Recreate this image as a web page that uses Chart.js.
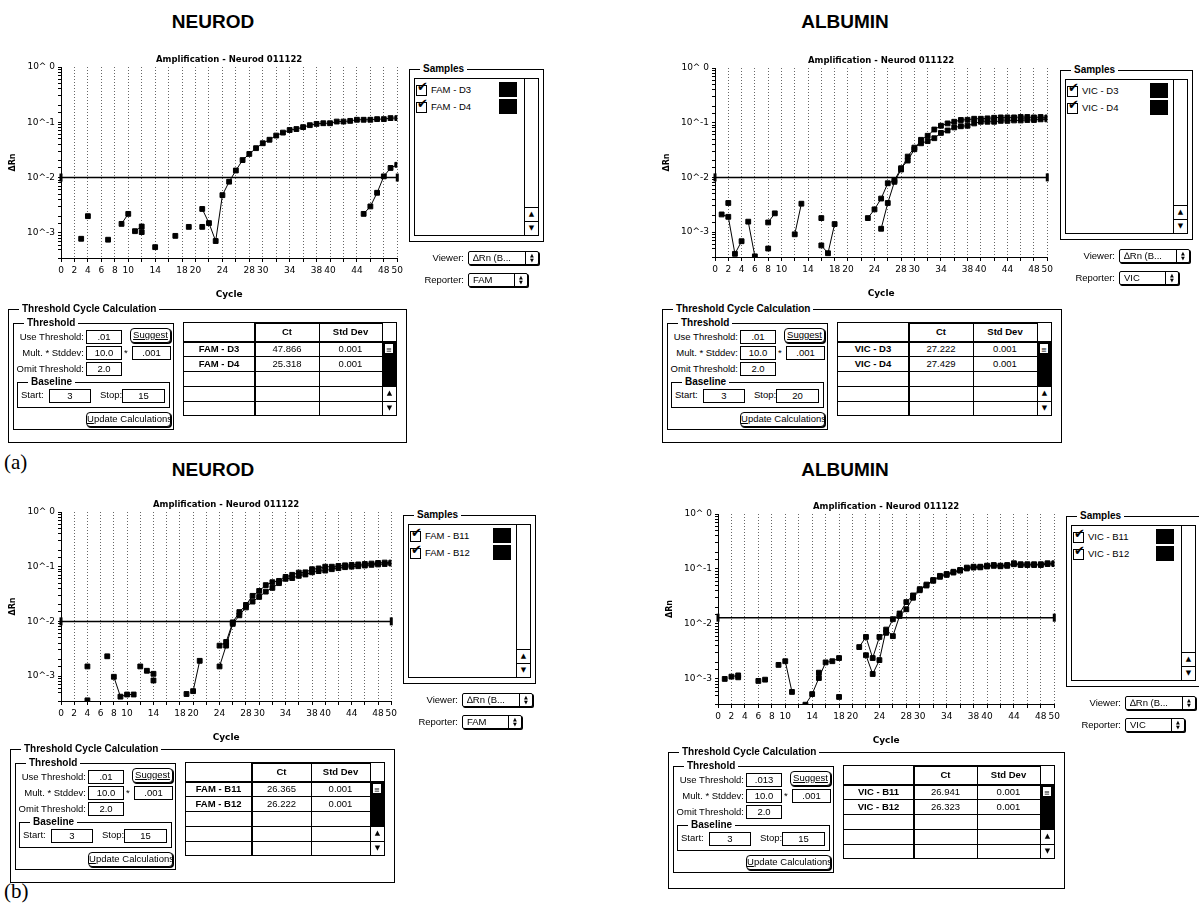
<!DOCTYPE html>
<html>
<head>
<meta charset="utf-8">
<script src="https://cdn.jsdelivr.net/npm/chart.js@4.4.0/dist/chart.umd.min.js"></script>
<style>
body { margin: 0; background: #fff; }
#stage { position: relative; width: 1199px; height: 910px; overflow: hidden; background: #fff;
         font-family: "Liberation Sans", Arial, sans-serif; font-size: 9.5px; color: #000; }
.a { position: absolute; box-sizing: border-box; }
.box { border: 1px solid #000; }
.gt { background: #fff; padding: 0 3px; font-weight: bold; font-size: 10px; line-height: 12px; white-space: nowrap; }
.lbl { white-space: nowrap; line-height: 12px; }
.fld { border: 1px solid #000; background: #fff; text-align: center; line-height: 12px; white-space: nowrap; }
.btn { border: 1px solid #000; border-radius: 4px; box-shadow: 1px 1px 0 #000; background: #fff;
       text-align: center; line-height: 12px; white-space: nowrap; }
.pop { border: 1px solid #000; border-radius: 2px; box-shadow: 1px 1px 0 #000; background: #fff; }
.blk { background: #000; }
.arrow { text-align: center; font-size: 7px; line-height: 13px; font-family: "DejaVu Sans", sans-serif; }
.updn { text-align: center; font-size: 5px; line-height: 5px; padding-top: 1px; font-family: "DejaVu Sans", sans-serif; }
.chk { font-family: "DejaVu Sans", sans-serif; font-size: 13px; font-weight: bold; line-height: 14px; }
.head { font-weight: bold; font-size: 19px; line-height: 22px; text-align: center; }
.paren { font-family: "Liberation Serif", "Times New Roman", serif; font-size: 21px; line-height: 22px; }
.cell { text-align: center; line-height: 14px; white-space: nowrap; }
.bold { font-weight: bold; }
</style>
</head>
<body>
<div id="stage"></div>
<script>
// ---- data ----
const cycles = [1,2,3,4,5,6,7,8,9,10,11,12,13,14,15,16,17,18,19,20,21,22,23,24,25,
                26,27,28,29,30,31,32,33,34,35,36,37,38,39,40,41,42,43,44,45,46,47,48,49,50];
const xLabelCycles = [0,2,4,6,8,10,14,18,20,24,28,30,34,38,40,44,48,50];

// (a) Neurod, FAM
const neurodD3 = [null,null,null,0.002,null,null,null,null,null,null,
  0.00107,0.0013,null,null,null,null,null,null,0.00128,null,
  0.00128,null,null,null,null,null,null,null,null,null,
  null,null,null,null,null,null,null,null,null,null,
  null,null,null,null,0.0022,0.003,0.0053,0.0105,0.0149,0.017];
const neurodD4 = [null,null,0.00078,null,null,null,0.00075,null,0.00145,0.0022,
  null,0.00103,null,0.00055,null,null,0.00088,null,null,null,
  0.0027,0.0015,0.00071,0.0048,0.0084,0.0134,0.0207,0.0267,0.034,0.0417,
  0.0483,0.0575,0.065,0.0724,0.0754,0.0817,0.0886,0.0935,0.096,0.096,
  0.103,0.103,0.106,0.111,0.111,0.111,0.114,0.114,0.119,0.119];
// (a) Albumin, VIC
const albuminD3 = [0.0021,0.0019,0.0004,0.00068,null,null,null,0.0015,0.0022,null,
  null,0.00091,0.0033,null,null,0.0018,null,null,null,null,
  null,null,0.0018,0.0026,0.0041,0.0078,0.0088,0.0147,0.0203,0.0327,
  0.0486,0.0576,0.075,0.088,0.097,0.104,0.112,0.113,0.118,0.118,
  0.12,0.123,0.125,0.125,0.125,0.127,0.127,0.125,0.127,0.125];
const albuminD4 = [null,0.0034,null,null,0.00155,0.00036,null,0.0005,null,null,
  null,null,null,null,null,0.00057,0.00041,0.0014,null,null,
  null,null,null,null,0.00115,0.0034,0.0083,0.0139,0.024,0.035,
  0.042,0.046,0.052,0.065,0.072,0.082,0.086,0.088,0.097,0.104,
  0.104,0.104,0.108,0.108,0.11,0.11,0.112,0.112,0.115,0.115];
// (b) Neurod, FAM
const neurodB11 = [null,null,null,0.0015,null,null,0.0023,null,null,null,
  null,0.0015,null,0.00083,null,null,null,null,0.00047,null,
  null,null,null,0.0015,0.0036,0.009,0.0129,0.018,0.023,0.028,
  0.035,0.041,0.05,0.06,0.062,0.068,0.072,0.079,0.083,0.085,
  0.09,0.094,0.098,0.1,0.102,0.105,0.108,0.11,0.112,0.114];
const neurodB12 = [null,null,null,0.00036,null,null,null,0.00097,0.00042,0.00046,
  0.00046,null,0.00125,0.0011,null,null,null,null,null,0.00053,
  0.0019,null,null,0.0036,0.0042,0.0096,0.0148,0.02,0.0293,0.036,
  0.046,0.052,0.055,0.065,0.071,0.078,0.079,0.09,0.093,0.1,
  0.1,0.103,0.106,0.108,0.11,0.112,0.114,0.117,0.119,0.119];
// (b) Albumin, VIC
const albuminB11 = [0.001,null,0.00107,null,null,0.00092,null,null,0.0018,null,
  null,null,0.00034,0.00053,0.00104,0.002,0.0021,0.0024,null,null,
  null,0.0027,0.00123,0.0022,0.0079,0.006,0.014,0.0185,0.03,0.041,
  0.05,0.061,0.072,0.078,0.086,0.093,0.102,0.106,0.107,0.111,
  0.114,0.112,0.114,0.122,0.118,0.118,0.118,0.118,0.123,0.123];
const albuminB12 = [null,0.0011,0.00116,null,null,null,0.00097,null,null,0.0021,
  0.00058,null,null,null,0.0013,null,null,0.00047,null,null,
  0.0038,0.0058,0.0024,0.0058,0.0069,0.0122,0.0155,0.025,0.033,0.043,
  0.052,0.063,0.075,0.081,0.089,0.096,0.106,0.11,0.11,0.115,
  0.118,0.115,0.118,0.127,0.122,0.122,0.122,0.122,0.127,0.127];

const thresholds = [0.01, 0.01, 0.01, 0.013];
const headings = ['NEUROD', 'ALBUMIN', 'NEUROD', 'ALBUMIN'];
const plotTitle = 'Amplification - Neurod 011122';
const sampleNames = [['FAM - D3', 'FAM - D4'], ['VIC - D3', 'VIC - D4'],
                     ['FAM - B11', 'FAM - B12'], ['VIC - B11', 'VIC - B12']];
const ctValues = [['47.866', '25.318'], ['27.222', '27.429'], ['26.365', '26.222'], ['26.941', '26.323']];
const stdDevValues = [['0.001', '0.001'], ['0.001', '0.001'], ['0.001', '0.001'], ['0.001', '0.001']];
const useThreshold = ['.01', '.01', '.01', '.013'];
const baselineStart = ['3', '3', '3', '3'];
const baselineStop = ['15', '20', '15', '15'];
const reporters = ['FAM', 'VIC', 'FAM', 'VIC'];
const seriesByPanel = [[neurodD3, neurodD4], [albuminD3, albuminD4],
                       [neurodB11, neurodB12], [albuminB11, albuminB12]];

// ---- layout (page pixels) ----
const panels = [
  { hx: 213, hy: 22,  plot: {left: 61,  top: 67,  right: 398,  bottom: 258},
    samples: {x: 409,  y: 69,  w: 135, h: 173}, calc: {x: 8,   y: 309, w: 399, h: 134} },
  { hx: 845, hy: 22,  plot: {left: 715, top: 68,  right: 1048, bottom: 257},
    samples: {x: 1060, y: 70,  w: 133, h: 170}, calc: {x: 662, y: 309, w: 400, h: 134} },
  { hx: 213, hy: 470, plot: {left: 61,  top: 512, right: 392,  bottom: 701},
    samples: {x: 403,  y: 515, w: 133, h: 169}, calc: {x: 10,  y: 749, w: 385, h: 134} },
  { hx: 845, hy: 470, plot: {left: 718, top: 514, right: 1055, bottom: 704},
    samples: {x: 1066, y: 516, w: 135, h: 171}, calc: {x: 668, y: 752, w: 397, h: 137} }
];

const stage = document.getElementById('stage');

function put(cls, x, y, w, h, text) {
  const d = document.createElement('div');
  d.className = 'a ' + cls;
  d.style.left = x + 'px';
  d.style.top = y + 'px';
  if (w != null) d.style.width = w + 'px';
  if (h != null) d.style.height = h + 'px';
  if (text != null) d.textContent = text;
  stage.appendChild(d);
  return d;
}

function groupBox(x, y, w, h, title) {
  put('box', x, y, w, h);
  put('gt', x + 11, y - 6, null, null, title);
}

function rightLabel(xRight, yc, text) {
  const d = put('lbl', xRight - 120, yc - 6, 120, 12, text);
  d.style.textAlign = 'right';
}

function field(x, y, w, h, text) {
  put('fld', x, y, w, h, text);
}

function button(x, y, w, h, text, underlineAll) {
  const b = put('btn', x, y, w, h);
  if (underlineAll) {
    b.innerHTML = '<u>' + text + '</u>';
  } else {
    b.innerHTML = '<u>' + text[0] + '</u>' + text.slice(1);
  }
}

function popup(x, y, w, h, text) {
  put('pop', x, y, w, h);
  const t = put('lbl', x + 5, y, null, h, text);
  t.style.lineHeight = h + 'px';
  put('blk', x + w - 14, y, 1, h);
  const ar = put('updn', x + w - 13, y + 1, 12, h - 2);
  ar.innerHTML = '&#9650;<br>&#9660;';
}

function drawSamples(s, names, reporter) {
  groupBox(s.x, s.y, s.w, s.h, 'Samples');
  const lx = s.x + 5, ly = s.y + 9, lw = s.w - 10, lh = s.h - 15;
  put('box', lx, ly, lw, lh);
  put('box', lx + lw - 15, ly, 15, lh);
  put('box arrow', lx + lw - 15, ly + lh - 29, 15, 15, '\u25B2');
  put('box arrow', lx + lw - 15, ly + lh - 15, 15, 15, '\u25BC');
  names.forEach((n, i) => {
    const cy = s.y + 21 + i * 17;
    const cb = put('box', s.x + 7, cy - 5, 11, 11);
    cb.style.background = '#fff';
    put('chk', s.x + 8, cy - 10, null, null, '\u2714');
    put('lbl', s.x + 22, cy - 6, null, 12, n);
    put('blk', s.x + 90, cy - 8, 18, 15);
  });
  rightLabel(s.x + 55, s.y + s.h + 16, 'Viewer:');
  popup(s.x + 59, s.y + s.h + 9, 71, 14, '\u2206Rn (B...');
  rightLabel(s.x + 55, s.y + s.h + 38, 'Reporter:');
  popup(s.x + 59, s.y + s.h + 31, 60, 14, reporter);
}

function drawCalc(c, k) {
  const X = c.x, Y = c.y;
  groupBox(X, Y, c.w, c.h, 'Threshold Cycle Calculation');
  groupBox(X + 5, Y + 14, 161, 107, 'Threshold');
  rightLabel(X + 76, Y + 28, 'Use Threshold:');
  field(X + 78, Y + 21, 36, 14, useThreshold[k]);
  button(X + 122, Y + 19, 41, 15, 'Suggest', true);
  rightLabel(X + 76, Y + 44, 'Mult. * Stddev:');
  field(X + 78, Y + 37, 36, 14, '10.0');
  put('lbl', X + 116, Y + 38, null, 12, '*');
  field(X + 124, Y + 37, 39, 14, '.001');
  rightLabel(X + 76, Y + 60, 'Omit Threshold:');
  field(X + 78, Y + 53, 36, 14, '2.0');
  groupBox(X + 9, Y + 73, 153, 26, 'Baseline');
  put('lbl', X + 13, Y + 80, null, 12, 'Start:');
  field(X + 41, Y + 80, 42, 14, baselineStart[k]);
  put('lbl', X + 92, Y + 80, null, 12, 'Stop:');
  field(X + 114, Y + 80, 43, 14, baselineStop[k]);
  button(X + 78, Y + 103, 85, 15, 'Update Calculations', false);

  // Ct table
  const tx = X + 175, ty = Y + 13, tw = c.w - 185, th = 94;
  const sb = 15;
  const c1 = Math.round((tw - sb) * 0.36), c2 = Math.round((tw - sb) * 0.32);
  const c3 = tw - sb - c1 - c2;
  const hh = 19, rh = 15;
  put('box', tx, ty, tw, th);
  put('blk', tx + c1 - 1, ty, 2, th);
  put('blk', tx + c1, ty, c2 + c3, 2);
  put('blk', tx + c1 + c2, ty, 1, th);
  put('blk', tx + c1 + c2 + c3, ty, 1, th);
  put('blk', tx, ty + hh, c1 + c2 + c3, 2);
  for (let r = 1; r < 5; r++) {
    put('blk', tx, ty + hh + r * rh, c1 + c2 + c3, 1);
  }
  put('cell bold', tx + c1, ty + 3, c2, hh - 3, 'Ct');
  put('cell bold', tx + c1 + c2, ty + 3, c3, hh - 3, 'Std Dev');
  sampleNames[k].forEach((n, i) => {
    const ry = ty + hh + i * rh + 1;
    put('cell bold', tx, ry, c1, rh, n);
    put('cell', tx + c1, ry, c2, rh, ctValues[k][i]);
    put('cell', tx + c1 + c2, ry, c3, rh, stdDevValues[k][i]);
  });
  const sx = tx + c1 + c2 + c3;
  put('blk', sx, ty + hh, sb, 3 * rh + 1);
  put('box arrow', sx + 2, ty + hh + 2, 10, 11, '\u2261').style.background = '#fff';
  put('box arrow', sx, ty + hh + 3 * rh, sb, rh + 1, '\u25B2');
  put('box arrow', sx, ty + hh + 4 * rh, sb, th - hh - 4 * rh, '\u25BC');
}

// draws the plot title centred over the plot area
const plotTitlePlugin = {
  id: 'plotTitle',
  afterDraw(chart, args, opts) {
    const a = chart.chartArea;
    const ctx = chart.ctx;
    ctx.save();
    ctx.font = 'bold 8.5px "DejaVu Sans", sans-serif';
    ctx.fillStyle = '#000';
    ctx.textAlign = 'center';
    ctx.textBaseline = 'middle';
    ctx.fillText(opts.text, (a.left + a.right) / 2, a.top - 7);
    ctx.restore();
  }
};

function makeChart(p, series, thr) {
  const cl = p.plot.left - 61, ct = p.plot.top - 20;
  const cw = p.plot.right + 8 - cl, ch = p.plot.bottom + 46 - ct;
  const canvas = document.createElement('canvas');
  canvas.width = cw;
  canvas.height = ch;
  canvas.style.position = 'absolute';
  canvas.style.left = cl + 'px';
  canvas.style.top = ct + 'px';
  canvas.style.width = cw + 'px';
  canvas.style.height = ch + 'px';
  stage.appendChild(canvas);

  const tickFont = {family: '"DejaVu Sans", sans-serif', size: 9};
  const datasets = series.map(vals => ({
    data: cycles.map((c, i) => ({x: c, y: vals[i]})),
    borderColor: '#000',
    borderWidth: 1,
    pointStyle: 'rect',
    pointRadius: 3.4,
    pointBorderWidth: 1,
    pointBackgroundColor: '#000',
    pointBorderColor: '#000',
    spanGaps: false,
    tension: 0
  }));
  datasets.push({
    data: [{x: 0, y: thr}, {x: 50, y: thr}],
    borderColor: '#000',
    borderWidth: 1.5,
    pointStyle: 'line',
    rotation: 90,
    pointRadius: 4,
    pointBorderWidth: 3,
    pointBorderColor: '#000',
    clip: false
  });

  new Chart(canvas, {
    type: 'line',
    data: { datasets: datasets },
    plugins: [plotTitlePlugin],
    options: {
      responsive: false,
      animation: false,
      layout: { padding: { top: 20, right: 8, left: 0, bottom: 0 } },
      plugins: {
        legend: { display: false },
        tooltip: { enabled: false },
        plotTitle: { text: plotTitle }
      },
      scales: {
        x: {
          type: 'linear', min: 0, max: 50,
          afterFit: s => { s.height = 46; },
          ticks: {
            stepSize: 2, autoSkip: false, maxRotation: 0, padding: 3, color: '#000', font: tickFont,
            callback: v => xLabelCycles.includes(v) ? String(v) : ''
          },
          grid: { color: '#666', lineWidth: 1, drawTicks: true, tickLength: 4, tickColor: '#000', tickBorderDash: [] },
          border: { display: true, color: '#000', width: 1, dash: [1, 2] },
          title: { display: true, text: 'Cycle', color: '#000',
                   font: {family: '"DejaVu Sans", sans-serif', size: 9, weight: 'bold'},
                   padding: {top: 0, bottom: 4} }
        },
        y: {
          type: 'logarithmic', min: 0.00035, max: 1,
          afterFit: s => { s.width = 61; },
          ticks: {
            autoSkip: false, padding: 3, color: '#000', font: tickFont,
            callback: v => {
              const e = Math.log10(v);
              const r = Math.round(e);
              return Math.abs(e - r) < 1e-6 ? '10^' + (r === 0 ? ' 0' : String(r)) : '';
            }
          },
          grid: { drawOnChartArea: false, drawTicks: true, tickLength: 3, tickColor: '#000' },
          border: { display: true, color: '#000', width: 1 },
          title: { display: true, text: '\u0394Rn', color: '#000',
                   font: {family: '"DejaVu Sans", sans-serif', size: 8, weight: 'bold'},
                   padding: {top: 8, bottom: 0} }
        }
      }
    }
  });
}

panels.forEach((p, k) => {
  put('head', p.hx - 70, p.hy - 11, 140, 22, headings[k]);
  makeChart(p, seriesByPanel[k], thresholds[k]);
  drawSamples(p.samples, sampleNames[k], reporters[k]);
  drawCalc(p.calc, k);
});
put('paren', 4, 451, null, null, '(a)');
put('paren', 4, 880, null, null, '(b)');
</script>
</body>
</html>
